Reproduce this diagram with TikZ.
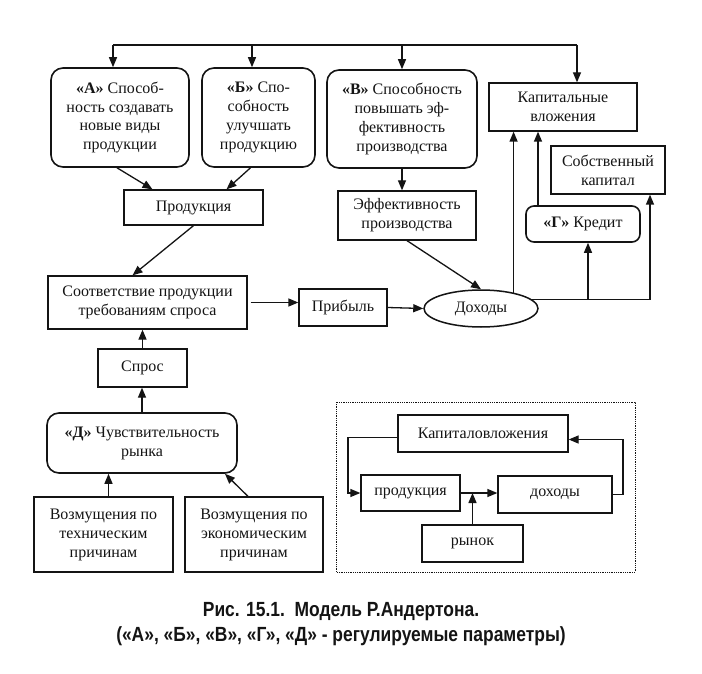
\documentclass[tikz,border=0pt]{standalone}
\usepackage{fontspec}
\setmainfont{Liberation Serif}
\newfontfamily\capfont{Liberation Sans}[FakeStretch=0.85]
\usetikzlibrary{arrows.meta,shapes.geometric}
\colorlet{ink}{black!92}
\newcommand{\prm}[1]{\textbf{«#1»}}

\begin{document}
\begin{tikzpicture}[x=1pt, y=-1pt, font=\fontsize{16}{19}\selectfont, line width=1.3pt, ink,
    box/.style={draw=ink, rectangle, align=center, inner sep=1pt},
    param/.style={box, rounded corners=12pt, line width=1.6pt},
    size/.style 2 args={minimum width=#1pt, minimum height=#2pt},
    arr/.style={-{Triangle[length=10pt,width=8pt]}}]
  \useasboundingbox[fill=white] (0,0) rectangle (702,674);

  % parameters A, B, V and what they act on
  \node[param, size={138}{99}] (A) at (120,117.5) {\prm{А} Способ-\\ность создавать\\ новые виды\\ продукции};
  \node[param, size={113}{99}] (B) at (258.5,117.5) {\prm{Б} Спо-\\собность\\ улучшать\\ продукцию};
  \node[param, size={150}{98}] (V) at (402,119) {\prm{В} Способность\\ повышать эф-\\фективность\\ производства};
  \node[box, size={148}{48}] (kap) at (563,107) {Капитальные\\ вложения};
  \node[box, size={114}{48}] (sob) at (608,170) {Собственный\\ капитал};
  \node[param, rounded corners=8pt, size={114}{36}] (kred) at (583,224) {\prm{Г} Кредит};
  \node[box, size={139}{35}] (prod) at (193.5,207.5) {Продукция};
  \node[box, size={138}{49}] (eff) at (407,215.5) {Эффективность\\ производства};
  \node[box, size={199}{53}] (sootv) at (147.5,302.5) {Соответствие продукции\\ требованиям спроса};
  \node[box, size={88}{37}] (prib) at (343,307.5) {Прибыль};
  \node[draw=ink, ellipse, inner sep=0pt, line width=1.5pt, size={114}{37}] (doh) at (481,308.5) {Доходы};
  \node[box, size={89}{38}] (spros) at (142.5,368) {Спрос};
  \node[param, size={190}{60}] (D) at (142,443) {\prm{Д} Чувствительность\\ рынка};
  \node[box, size={139}{75}] (vtech) at (103.5,534.5) {Возмущения по\\ техническим\\ причинам};
  \node[box, size={138}{75}] (vecon) at (254,534.5) {Возмущения по\\ экономическим\\ причинам};

  % feed from the top
  \coordinate (ta) at (113,45);
  \coordinate (tb) at (252,45);
  \coordinate (tv) at (402,45);
  \coordinate (tk) at (577,45);
  \draw (ta) -- (tk);
  \draw[arr] (ta) -- (ta |- A.north);
  \draw[arr] (tb) -- (tb |- B.north);
  \draw[arr] (tv) -- (V.north);
  \draw[arr] (tk) -- (tk |- kap.north);

  \draw[arr] ([xshift=-3pt]A.south) -- ([xshift=-41pt]prod.north);
  \draw[arr] ([xshift=-8pt]B.south) -- ([xshift=33pt]prod.north);
  \draw[arr] (V.south) -- (V.south |- eff.north);
  \draw[arr] (prod.south) -- ([xshift=-15pt]sootv.north);
  \draw[arr, shorten <=3pt] (sootv.east) -- (sootv.east -| prib.west);
  \draw[arr] (prib.east) -- (doh.west);
  \draw[arr] (eff.south) -- (doh.north);

  % where the income goes
  \coordinate (dr) at (650,303);
  \draw[arr] (doh.26) -- (doh.26 |- kap.south);
  \draw[arr] (doh.10) -- (doh.10 -| dr) -- (dr |- sob.south);
  \draw[arr] ([xshift=5pt]kred.south |- doh.10) -- ([xshift=5pt]kred.south);
  \draw[arr] ([xshift=-45pt]kred.north) -- ([xshift=-45pt]kred.north |- kap.south);

  \draw[arr] (spros.north) -- (spros.north |- sootv.south);
  \draw[arr] (D.north) -- (D.north |- spros.south);
  \draw[arr] ([xshift=5pt]vtech.north) -- ([xshift=5pt]vtech.north |- D.south);
  \draw[arr] ([xshift=-6pt]vecon.north) -- ([xshift=83pt]D.south);

  % inset: the short loop
  \draw[densely dotted, line width=0.8pt] (336,402) rectangle (635,572);
  \node[box, size={170}{37}] (ikap) at (483,433.5) {Капиталовложения};
  \node[box, size={99}{36}] (iprod) at (410.5,493) {продукция};
  \node[box, size={114}{37}] (idoh) at (555,494.5) {доходы};
  \node[box, size={101}{37}] (iryn) at (472.5,543.5) {рынок};
  \coordinate (il) at (348,438);
  \coordinate (ir) at (623,440);
  \draw[arr] ([yshift=-4pt]ikap.west) -- ([yshift=-4pt]ikap.west -| il) |- (iprod.west);
  \draw[arr] (iprod.east) -- (iprod.east -| idoh.west);
  \draw[arr] (iryn.north) -- (iryn.north |- iprod.east);
  \draw[arr] (idoh.east) -- (idoh.east -| ir) |- ([yshift=-6pt]ikap.east);

  \node[align=center, font=\capfont\bfseries\fontsize{20.5}{25}\selectfont] (cap) at (341,624)
    {Рис. 15.1.\ \ Модель Р.Андертона.\\ («А», «Б», «В», «Г», «Д» - регулируемые параметры)};
\end{tikzpicture}
\end{document}
